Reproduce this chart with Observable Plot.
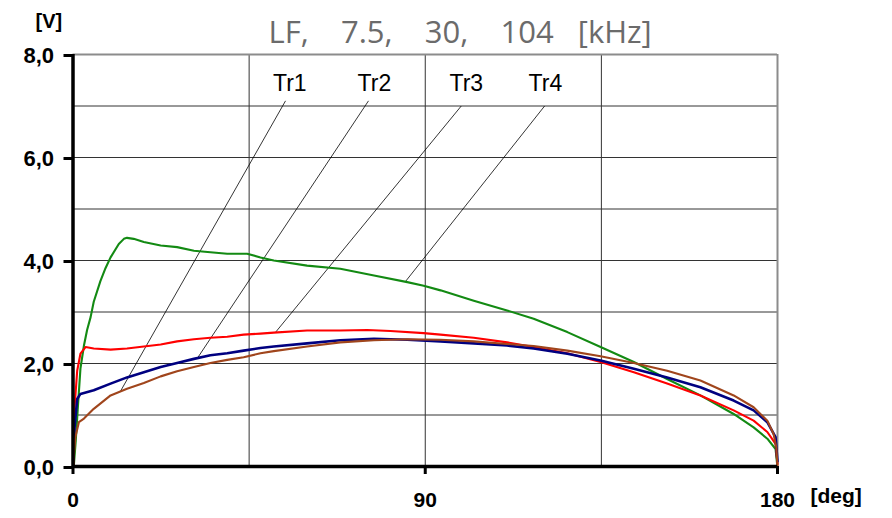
<!DOCTYPE html>
<html>
<head>
<meta charset="utf-8">
<script src="https://cdn.jsdelivr.net/npm/d3@7"></script>
<script src="https://cdn.jsdelivr.net/npm/@observablehq/plot@0.6"></script>
<style>
  html, body { margin: 0; padding: 0; background: #fff; }
</style>
</head>
<body>
<div id="chart"></div>
<script>
// ---- data: [deg, V] pairs ----
const tr1 = [ // brown
  [0,0],[0.6,0.57],[1.5,0.86],[2.8,0.93],[5.3,1.12],[9.6,1.38],[13.8,1.51],[18.1,1.62],
  [22.4,1.75],[26.6,1.85],[30.9,1.93],[35.1,2.01],[39.4,2.07],[43.6,2.12],[47.9,2.20],
  [51.3,2.24],[59.8,2.33],[68.3,2.41],[76.9,2.45],[85.4,2.47],[93.9,2.46],[102.4,2.43],
  [110.9,2.38],[117.7,2.34],[126.3,2.25],[134.8,2.14],[143.3,2.01],[151.8,1.86],
  [160.3,1.67],[168.8,1.38],[173.9,1.15],[177.4,0.89],[179.0,0.63],[179.7,0.37],[180,0]
];
const tr2 = [ // blue
  [0.05,0.12],[0.4,0.76],[1.07,1.31],[1.9,1.41],[5.3,1.48],[9.6,1.61],[13.8,1.73],
  [18.1,1.83],[22.4,1.93],[26.6,2.01],[30.9,2.09],[35.1,2.16],[39.4,2.20],[43.6,2.25],
  [47.9,2.30],[51.3,2.33],[59.8,2.39],[68.3,2.45],[76.9,2.48],[85.4,2.46],[93.9,2.43],
  [102.4,2.39],[110.9,2.35],[117.7,2.29],[126.3,2.19],[134.8,2.06],[143.3,1.90],
  [151.8,1.73],[160.3,1.54],[168.8,1.28],[173.9,1.09],[177.4,0.86],[179.5,0.57],[180,0.1]
];
const tr3 = [ // red
  [0.1,0],[0.4,1.15],[1.07,1.86],[1.9,2.19],[3.2,2.32],[5.3,2.29],[9.6,2.27],[13.8,2.29],
  [18.1,2.33],[22.4,2.37],[26.6,2.43],[30.9,2.47],[35.1,2.50],[39.4,2.52],[43.6,2.56],
  [47.9,2.58],[51.3,2.60],[59.8,2.64],[68.3,2.64],[75.2,2.65],[81.1,2.63],[89.6,2.59],
  [93.9,2.56],[102.4,2.50],[110.9,2.41],[117.7,2.32],[126.3,2.20],[134.8,2.03],
  [143.3,1.83],[151.8,1.61],[160.3,1.38],[168.8,1.09],[173.9,0.89],[177.4,0.67],
  [179.5,0.44],[180,0.05]
];
const tr4 = [ // green
  [0.2,0],[0.7,0.5],[1.2,1.1],[1.9,1.9],[2.8,2.35],[3.6,2.65],[4.5,2.9],[5.3,3.2],
  [7.0,3.6],[8.3,3.85],[9.6,4.06],[11.7,4.32],[13.0,4.42],[13.8,4.44],[15.5,4.42],
  [18.1,4.36],[22.4,4.29],[26.6,4.26],[30.9,4.19],[35.1,4.16],[39.4,4.13],[44.5,4.13],
  [47.9,4.06],[51.3,4.0],[59.8,3.90],[68.3,3.84],[76.9,3.71],[85.4,3.58],[89.6,3.51],
  [93.9,3.42],[102.4,3.22],[110.9,3.03],[117.7,2.87],[126.3,2.61],[134.8,2.32],
  [143.3,2.03],[151.8,1.70],[160.3,1.38],[168.8,1.02],[173.9,0.76],[177.4,0.54],
  [179.5,0.34],[179.9,0.05]
];

const seriesNames = ["Tr1", "Tr2", "Tr3", "Tr4"];
const seriesData = [tr1, tr2, tr3, tr4];
const seriesColors = ["#a0451c", "#000080", "#ff0000", "#138a13"];
const drawOrder = [3, 2, 1, 0];

// label annotations (data units)
const labelDeg = [55.4, 77.0, 100.5, 120.7];
const labelV = 7.3;
const leaderStartDeg = [54.3, 75.5, 99.2, 120.5];
const leaderStartV = [7.1, 7.1, 7.0, 7.0];
const leaderEndDeg = [12.1, 31.8, 51.7, 84.9];

const yTicks = [0, 2, 4, 6, 8];
const xTicks = [0, 90, 180];
const yGrid = [1, 2, 3, 4, 5, 6, 7];
const xGrid = [45, 90, 135];
const title = "LF,\u00a0\u00a0\u00a0\u00a07.5,\u00a0\u00a0\u00a0\u00a030,\u00a0\u00a0\u00a0\u00a0104\u00a0\u00a0\u00a0[kHz]";

function valueAt(s, deg) {
  for (let i = 0; i < s.length - 1; i++) {
    const [x0, y0] = s[i], [x1, y1] = s[i + 1];
    if (deg >= x0 && deg <= x1) return y0 + (y1 - y0) * (deg - x0) / (x1 - x0);
  }
  return s[s.length - 1][1];
}

const leaders = seriesNames.map((name, k) => ({
  x1: leaderStartDeg[k], y1: leaderStartV[k],
  x2: leaderEndDeg[k], y2: valueAt(seriesData[k], leaderEndDeg[k])
}));
const labels = seriesNames.map((name, k) => ({name, x: labelDeg[k], y: labelV}));

const fmt = d => d.toFixed(1).replace(".", ",");

const chart = Plot.plot({
  width: 892,
  height: 518,
  marginLeft: 72.5,
  marginRight: 115,
  marginTop: 54,
  marginBottom: 52,
  x: {domain: [0, 180], axis: null},
  y: {domain: [0, 8], axis: null},
  style: {fontFamily: "'Liberation Sans', Arial, sans-serif", background: "#fff", overflow: "visible"},
  marks: [
    Plot.gridY(yGrid, {stroke: "#333", strokeOpacity: 1, strokeWidth: 1}),
    Plot.gridX(xGrid, {stroke: "#333", strokeOpacity: 1, strokeWidth: 1}),
    Plot.ruleY([8], {stroke: "#8c8c8c", strokeWidth: 2}),
    Plot.ruleX([180], {stroke: "#8c8c8c", strokeWidth: 2}),
    Plot.link(leaders, {x1: "x1", y1: "y1", x2: "x2", y2: "y2", stroke: "#000", strokeWidth: 0.8}),
    ...drawOrder.map(k => Plot.line(seriesData[k], {
      x: d => d[0], y: d => d[1], stroke: seriesColors[k],
      strokeWidth: k === 1 ? 2.6 : 2.1, curve: "linear"
    })),
    Plot.ruleX([0], {stroke: "#000", strokeWidth: 3.5}),
    Plot.ruleY([0], {stroke: "#000", strokeWidth: 3.5}),
    Plot.axisY(yTicks, {anchor: "left", tickSize: 9, tickPadding: 10, strokeWidth: 3, tickFormat: fmt,
      fontSize: 22, fontWeight: "bold", fill: "#000", label: null, dy: 1}),
    Plot.axisX(xTicks, {anchor: "bottom", tickSize: 8, tickPadding: 18, strokeWidth: 3, tickFormat: d => String(d),
      fontSize: 21, fontWeight: "bold", fill: "#000", label: null}),
    Plot.text(labels, {x: "x", y: "y", text: "name", fontSize: 23, lineAnchor: "bottom", fill: "#000"}),
    Plot.text([title], {frameAnchor: "top-left", textAnchor: "start", lineAnchor: "bottom", dx: 195.5, dy: -12,
      fontSize: 31, fill: "#6b6b6b", fontFamily: "'Open Sans', sans-serif"}),
    Plot.text(["[V]"], {frameAnchor: "top-left", textAnchor: "start", lineAnchor: "bottom", dx: -37.5, dy: -26.5,
      fontSize: 20, fontWeight: "bold", fill: "#000"}),
    Plot.text(["[deg]"], {frameAnchor: "bottom-right", textAnchor: "start", lineAnchor: "bottom", dx: 33, dy: 36,
      fontSize: 21, fontWeight: "bold", fill: "#000"})
  ]
});
document.getElementById("chart").appendChild(chart);
</script>
</body>
</html>
